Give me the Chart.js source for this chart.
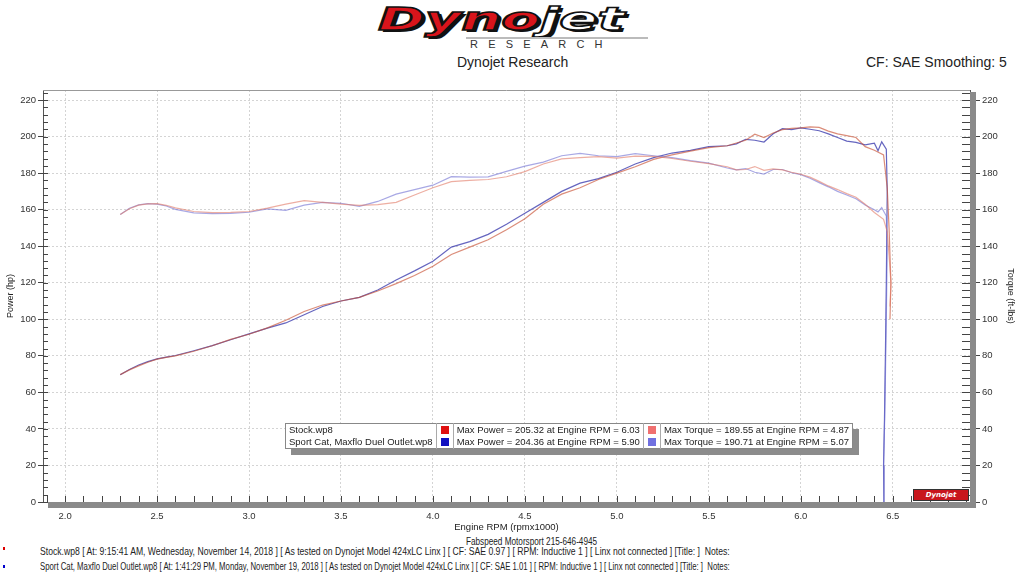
<!DOCTYPE html>
<html>
<head>
<meta charset="utf-8">
<script src="https://cdn.jsdelivr.net/npm/chart.js@4.4.1/dist/chart.umd.min.js"></script>
<style>
  html, body { margin: 0; padding: 0; background: #fff; }
  body { width: 1024px; height: 576px; position: relative; overflow: hidden; font-family: "Liberation Sans", Arial, sans-serif; color: #222; }
  .abs { position: absolute; white-space: nowrap; }
  #logo { left: 378px; top: 1px; font-family: "DejaVu Sans", sans-serif; font-weight: bold; font-style: italic; font-size: 32px; line-height: 36px; transform-origin: 0 0; text-shadow: 2px 2px 0 #111; }
  #logo .dyno { color: #d8141b; -webkit-text-stroke: 1.5px #111; }
  #logo .jet { color: #fff; -webkit-text-stroke: 1.5px #111; }
  #logoLine { left: 466px; top: 37px; width: 182px; height: 2px; background: #bbb; }
  #research { left: 470px; top: 38px; font-size: 11px; letter-spacing: 10.2px; color: #333; }
  #title { left: 457px; top: 54px; font-size: 14px; }
  #cf { left: 866px; top: 54px; font-size: 14px; }
  #chartBox { position: absolute; left: 0; top: 80px; width: 1024px; height: 454px; }
  #legend { left: 285px; top: 423px; border: 1px solid #888; background: #fff; font-size: 9.5px; box-shadow: 6px 6px 0 #8c8c8c; border-collapse: collapse; }
  #legend td { padding: 0 3px; height: 12px; line-height: 12px; }
  #legend td.sw { width: 12px; padding: 0 2px; border-left: 1px solid #aaa; border-right: 1px solid #aaa; }
  #legend td.sw span { display: block; width: 8px; height: 8px; margin: 0 auto; }
  #shop { left: 466px; top: 536px; font-size: 10px; transform-origin: 0 0; }
  .run { left: 40px; font-size: 10.5px; transform-origin: 0 0; }
  .dot { left: 3px; width: 2px; height: 3px; }
  #miniLogo { left: 913px; top: 489px; width: 54px; height: 10px; background: #c8161d; border: 1px solid #333; font-size: 7px; font-style: italic; font-weight: bold; color: #fff; line-height: 10px; text-align: center; font-family: "DejaVu Sans", sans-serif; }
</style>
</head>
<body>
<div id="logo" class="abs"><span class="dyno">Dyno</span><span class="jet">jet</span></div>
<div id="logoLine" class="abs"></div>
<div id="research" class="abs">RESEARCH</div>
<div id="title" class="abs">Dynojet Research</div>
<div id="cf" class="abs">CF: SAE Smoothing: 5</div>

<div id="chartBox"><canvas id="dynoChart"></canvas></div>

<div id="miniLogo" class="abs">Dynojet</div>

<table id="legend" class="abs">
  <tr>
    <td>Stock.wp8</td>
    <td class="sw"><span style="background:#e01010"></span></td>
    <td>Max Power = 205.32 at Engine RPM = 6.03</td>
    <td class="sw"><span style="background:#f07070"></span></td>
    <td>Max Torque = 189.55 at Engine RPM = 4.87</td>
  </tr>
  <tr>
    <td>Sport Cat, Maxflo Duel Outlet.wp8</td>
    <td class="sw"><span style="background:#1010c0"></span></td>
    <td>Max Power = 204.36 at Engine RPM = 5.90</td>
    <td class="sw"><span style="background:#7070e0"></span></td>
    <td>Max Torque = 190.71 at Engine RPM = 5.07</td>
  </tr>
</table>

<div id="shop" class="abs">Fabspeed Motorsport 215-646-4945</div>
<div class="abs dot" style="top:547px;background:#d00"></div>
<div class="abs dot" style="top:565px;background:#00c"></div>
<div class="abs run" id="run1" style="top:545px">Stock.wp8 [ At: 9:15:41 AM, Wednesday, November 14, 2018 ] [ As tested on Dynojet Model 424xLC Linx ] [ CF: SAE 0.97 ] [ RPM: Inductive 1 ] [ Linx not connected ] [Title: ]&nbsp; Notes:</div>
<div class="abs run" id="run2" style="top:560px">Sport Cat, Maxflo Duel Outlet.wp8 [ At: 1:41:29 PM, Monday, November 19, 2018 ] [ As tested on Dynojet Model 424xLC Linx ] [ CF: SAE 1.01 ] [ RPM: Inductive 1 ] [ Linx not connected ] [Title: ]&nbsp; Notes:</div>

<script>
// --- RUN DATA ---
const stockRpm = [2.30, 2.35, 2.40, 2.45, 2.50, 2.55, 2.60, 2.70, 2.80, 2.90, 3.00, 3.10, 3.20, 3.30, 3.40, 3.50,
  3.60, 3.70, 3.80, 3.90, 4.00, 4.10, 4.20, 4.30, 4.40, 4.50, 4.60, 4.70, 4.80, 4.90, 5.00, 5.10, 5.20, 5.30,
  5.40, 5.50, 5.60, 5.65, 5.70, 5.75, 5.80, 5.85, 5.90, 5.95, 6.00, 6.05, 6.10, 6.15, 6.20, 6.25, 6.30, 6.35,
  6.40, 6.45, 6.47, 6.48, 6.49, 6.485];
const stockPower = [69.7, 72.3, 74.5, 76.5, 78.2, 79.2, 80.0, 82.5, 85.5, 89.0, 91.8, 95.3, 99.5, 104.3, 107.8, 110.0,
  112.0, 115.5, 119.5, 124.0, 129.0, 135.5, 139.5, 143.5, 149.0, 155.0, 163.0, 168.5, 172.0, 176.5, 180.0, 183.5,
  187.5, 190.0, 192.0, 194.0, 195.0, 196.5, 198.0, 201.3, 199.5, 202.0, 203.8, 204.5, 204.8, 205.3, 205.0, 203.0,
  201.5, 200.5, 199.5, 194.5, 192.5, 190.0, 172, 150, 120, 100];
const stockTorque = [157.4, 160.5, 162.5, 163.2, 163.3, 162.4, 161.0, 159.0, 158.4, 158.5, 159.0, 160.8, 163.0, 165.0,
  164.0, 163.0, 162.4, 162.8, 164.0, 168.0, 172.0, 175.3, 176.0, 176.5, 178.0, 180.8, 185.0, 187.8, 188.5, 189.0,
  188.2, 189.3, 189.2, 188.0, 186.5, 185.2, 183.5, 181.8, 182.0, 183.6, 181.5, 182.3, 181.8, 180.5, 179.4, 177.8,
  175.5, 173.0, 171.0, 168.8, 166.8, 163.0, 158.5, 154.7, 148, 135, 120, 107];

const sportRpm = [2.30, 2.35, 2.40, 2.45, 2.50, 2.55, 2.60, 2.70, 2.80, 2.90, 3.00, 3.10, 3.20, 3.30, 3.40, 3.50,
  3.60, 3.70, 3.80, 3.90, 4.00, 4.10, 4.20, 4.30, 4.40, 4.50, 4.60, 4.70, 4.80, 4.90, 5.00, 5.10, 5.20, 5.30,
  5.40, 5.50, 5.60, 5.65, 5.70, 5.75, 5.80, 5.85, 5.90, 5.95, 6.00, 6.05, 6.10, 6.15, 6.20, 6.25, 6.30, 6.35,
  6.40, 6.42, 6.44, 6.465, 6.47, 6.465, 6.46, 6.455, 6.45, 6.452];
const sportPower = [69.7, 72.5, 75.0, 76.8, 78.3, 79.3, 80.2, 82.8, 85.6, 88.8, 92.0, 95.2, 98.0, 102.5, 107.0, 110.0,
  112.0, 116.0, 121.5, 126.5, 131.8, 139.5, 142.5, 146.5, 152.0, 158.0, 164.0, 170.0, 174.5, 177.0, 180.5, 185.0,
  188.5, 191.0, 192.5, 194.5, 195.0, 196.0, 198.5, 198.0, 197.0, 201.5, 204.3, 203.8, 204.8, 204.0, 203.2, 201.5,
  199.5, 197.5, 196.8, 195.5, 196.4, 192.2, 197.1, 193.1, 170, 120, 80, 45, 20, 0];
const sportTorque = [157.4, 160.8, 162.6, 163.3, 163.0, 162.0, 160.2, 158.3, 157.8, 158.0, 158.6, 160.4, 159.6, 162.5,
  164.0, 163.5, 161.8, 164.5, 168.5, 171.0, 173.4, 178.1, 177.8, 178.0, 181.0, 183.8, 186.0, 189.5, 190.8, 189.5,
  189.0, 190.7, 189.5, 188.5, 186.8, 185.5, 182.8, 181.8, 182.5, 180.5, 179.5, 182.0, 182.0, 180.2, 179.2, 177.2,
  174.8, 172.5, 170.0, 168.0, 166.0, 162.5, 160.0, 158.8, 161.1, 156.5, 140, 100, 68, 40, 20, 0];

const xTicks = [2.0, 2.5, 3.0, 3.5, 4.0, 4.5, 5.0, 5.5, 6.0, 6.5];
const yTicks = [0, 20, 40, 60, 80, 100, 120, 140, 160, 180, 200, 220];

function toPoints(rpm, vals) {
  return rpm.map((r, i) => ({ x: r, y: vals[i] }));
}

// stretch the logo and squeeze the footer text to their size on the sheet
const logo = document.getElementById("logo");
logo.style.transform = "scaleX(" + (246 / logo.offsetWidth) + ")";
[["run1", 690], ["run2", 690], ["shop", 131]].forEach(([id, w]) => {
  const el = document.getElementById(id);
  el.style.transform = "scaleX(" + (w / el.offsetWidth) + ")";
});

// --- FRAME: shadow bars and minor ticks like the dyno printout ---
const framePlugin = {
  id: "frame",
  beforeDatasetsDraw(chart) {
    const { ctx, chartArea: a, scales } = chart;
    ctx.save();
    ctx.strokeStyle = "#444";
    ctx.lineWidth = 1;
    ctx.beginPath();
    for (let v = 1.9; v < 6.9; v += 0.1) {
      const px = Math.round(scales.x.getPixelForValue(v)) + 0.5;
      ctx.moveTo(px, a.bottom);
      ctx.lineTo(px, a.bottom - 6);
    }
    for (let v = 0; v <= 224; v += 4) {
      const py = Math.round(scales.y.getPixelForValue(v)) + 0.5;
      ctx.moveTo(a.left, py);
      ctx.lineTo(a.left + 5, py);
      ctx.moveTo(a.right, py);
      ctx.lineTo(a.right - 8, py);
    }
    ctx.stroke();
    ctx.strokeStyle = "#999";
    ctx.beginPath();
    ctx.moveTo(a.left, a.top + 0.5);
    ctx.lineTo(a.right, a.top + 0.5);
    ctx.stroke();
    ctx.restore();
  },
  afterDraw(chart) {
    const { ctx, chartArea: a } = chart;
    ctx.save();
    ctx.fillStyle = "#8a8a8a";
    ctx.fillRect(a.right, a.top + 2, 6, a.bottom - a.top + 4);
    ctx.fillRect(a.left + 5, a.bottom, a.right - a.left + 1, 6);
    ctx.restore();
  }
};

const tickFont = { family: "Liberation Sans, Arial, sans-serif", size: 9.5 };
const titleFont = { family: "Liberation Sans, Arial, sans-serif", size: 9 };

new Chart(document.getElementById("dynoChart"), {
  type: "line",
  data: {
    datasets: [
      { label: "Stock torque", data: toPoints(stockRpm, stockTorque), borderColor: "rgba(225,120,100,0.6)", yAxisID: "y2" },
      { label: "Sport torque", data: toPoints(sportRpm, sportTorque), borderColor: "rgba(110,110,210,0.6)", yAxisID: "y2" },
      { label: "Stock power", data: toPoints(stockRpm, stockPower), borderColor: "rgba(200,80,50,0.65)", yAxisID: "y" },
      { label: "Sport power", data: toPoints(sportRpm, sportPower), borderColor: "rgba(50,50,170,0.75)", yAxisID: "y" }
    ]
  },
  options: {
    responsive: true,
    maintainAspectRatio: false,
    animation: false,
    layout: { padding: { top: 10, left: 5, right: 8, bottom: 0 } },
    elements: {
      line: { borderWidth: 1.2, tension: 0, fill: false },
      point: { radius: 0 }
    },
    plugins: { legend: { display: false }, tooltip: { enabled: false } },
    scales: {
      x: {
        type: "linear",
        min: 1.88,
        max: 6.92,
        afterBuildTicks: (s) => { s.ticks = xTicks.map(v => ({ value: v })); },
        afterFit: (s) => { s.height = 32; },
        ticks: { callback: (v) => v.toFixed(1), font: tickFont, color: "#333", padding: 5, maxRotation: 0 },
        grid: { color: "#d4d4d4", tickLength: 4, tickColor: "#444" },
        border: { color: "#555", dash: [2, 2] },
        title: { display: true, text: "Engine RPM (rpmx1000)", font: tickFont, color: "#222", padding: { top: 0, bottom: 1 } }
      },
      y: {
        position: "left",
        min: 0,
        max: 225.5,
        afterBuildTicks: (s) => { s.ticks = yTicks.map(v => ({ value: v })); },
        afterFit: (s) => { s.width = 38; },
        ticks: { font: tickFont, color: "#333", padding: 2 },
        grid: { color: "#d4d4d4", tickLength: 5, tickColor: "#444" },
        border: { color: "#555", dash: [2, 2] },
        title: { display: true, text: "Power (hp)", font: titleFont, color: "#222", padding: 0 }
      },
      y2: {
        position: "right",
        min: 0,
        max: 225.5,
        afterBuildTicks: (s) => { s.ticks = yTicks.map(v => ({ value: v })); },
        afterFit: (s) => { s.width = 46; },
        ticks: { font: tickFont, color: "#333", padding: 2 },
        grid: { drawOnChartArea: false, tickLength: 10, tickColor: "#444" },
        border: { color: "#555" },
        title: { display: true, text: "Torque (ft-lbs)", font: titleFont, color: "#222", padding: 0 }
      }
    }
  },
  plugins: [framePlugin]
});
</script>
</body>
</html>
